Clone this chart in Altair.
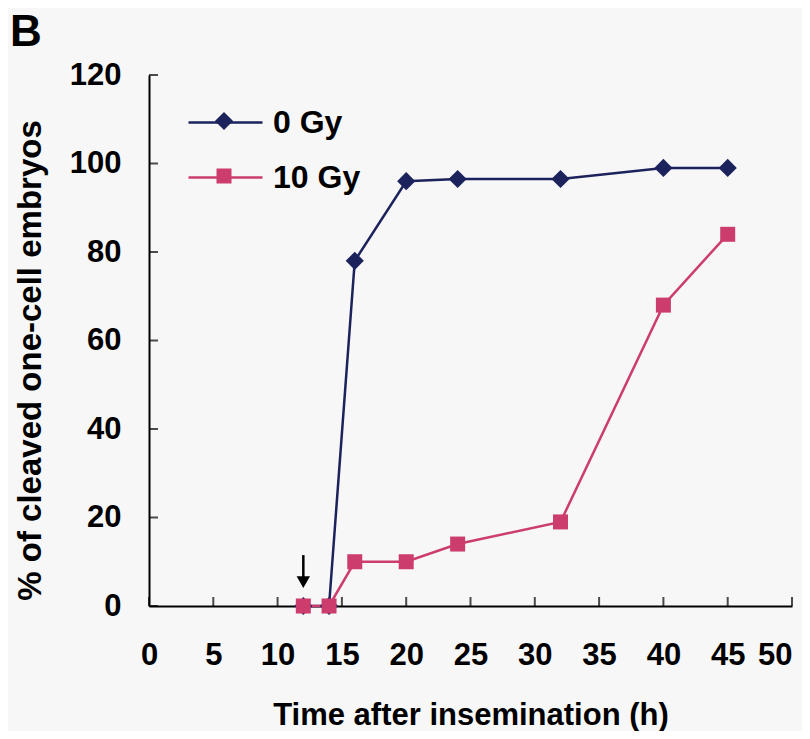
import altair as alt
import pandas as pd

series_names = ["0 Gy", "10 Gy"]
time_h = [12, 14, 16, 20, 24, 32, 40, 45]
pct_0gy = [0, 0, 78, 96, 96.5, 96.5, 99, 99]
pct_10gy = [0, 0, 10, 10, 14, 19, 68, 84]
x_ticks = [0, 5, 10, 15, 20, 25, 30, 35, 40, 45, 50]
y_ticks = [0, 20, 40, 60, 80, 100, 120]
arrow_time = [12]
arrow_top = [11.5]
arrow_shaft_end = [6.0]
arrow_head = [5.4]

series_colors = ["#1c225c", "#cc3c6c"]
marker_shapes = ["diamond", "square"]
marker_sizes = [330, 225]

series_col = [series_names[0]] * len(time_h) + [series_names[1]] * len(time_h)
df = pd.DataFrame({
    "time": time_h * 2,
    "pct": pct_0gy + pct_10gy,
    "series": series_col,
    "series_line": series_col,
})
xt_df = pd.DataFrame({"time": x_ticks})
yt_df = pd.DataFrame({"pct": y_ticks})
arrow_df = pd.DataFrame({"time": arrow_time, "pct": arrow_top,
                         "pct_end": arrow_shaft_end, "head": arrow_head})

FONT = "Liberation Sans"
x_scale = alt.Scale(domain=[0, 50], nice=False, zero=False)
y_scale = alt.Scale(domain=[0, 120], nice=False)

x_axis = alt.Axis(values=x_ticks, title="Time after insemination (h)", ticks=False,
                  tickSize=0, grid=False, labelPadding=34, titlePadding=30,
                  labelFontSize=31, titleFontSize=31, domainWidth=2, labelFlush=False,
                  labelAlign=alt.expr("datum.value == 50 ? 'right' : 'center'"))
y_axis = alt.Axis(values=y_ticks, title="% of cleaved one-cell embryos", ticks=False,
                  tickSize=0, grid=False, labelPadding=28, titlePadding=22, titleY=285,
                  labelFontSize=31, titleFontSize=33, domainWidth=2, labelFlush=False)

base = alt.Chart(df)

# legend = two stacked standard legends: coloured strokes underneath, markers on top
line_legend = alt.Legend(orient="none", legendX=38, legendY=9, title=None, padding=0,
                         symbolType="stroke", symbolSize=5476, symbolStrokeWidth=2.5,
                         rowPadding=-19, labelOffset=9,
                         labelFontSize=32, labelFontWeight="bold", labelFont=FONT,
                         labelColor="black")
marker_legend = alt.Legend(orient="top-left", offset=23, title=None, padding=0,
                           symbolSize=320, symbolOffset=36, symbolStrokeWidth=0,
                           clipHeight=46, rowPadding=9, labelExpr="''",
                           labelFontSize=32, labelFontWeight="bold", labelFont=FONT)

lines = base.mark_line(strokeWidth=2.5).encode(
    x=alt.X("time:Q", scale=x_scale, axis=x_axis),
    y=alt.Y("pct:Q", scale=y_scale, axis=y_axis),
    stroke=alt.Stroke("series_line:N", scale=alt.Scale(range=series_colors),
                      legend=line_legend),
)

points = base.mark_point(filled=True, opacity=1, strokeWidth=0).encode(
    x="time:Q", y="pct:Q",
    color=alt.Color("series:N", scale=alt.Scale(domain=series_names, range=series_colors),
                    legend=marker_legend),
    shape=alt.Shape("series:N", scale=alt.Scale(domain=series_names, range=marker_shapes),
                    legend=marker_legend),
    size=alt.Size("series:N", scale=alt.Scale(domain=series_names, range=marker_sizes),
                  legend=None),
)

xticks = alt.Chart(xt_df).mark_tick(orient="vertical", size=9, thickness=2, color="black",
                                    yOffset=-4.5).encode(x="time:Q", y=alt.datum(0))
yticks = alt.Chart(yt_df).mark_tick(orient="horizontal", size=9, thickness=2, color="black",
                                    xOffset=4.5).encode(y="pct:Q", x=alt.datum(0))

arrow_shaft = alt.Chart(arrow_df).mark_rule(strokeWidth=2.5, color="black").encode(
    x="time:Q", y="pct:Q", y2="pct_end:Q")
arrow_tip = alt.Chart(arrow_df).mark_point(shape="triangle-down", filled=True, size=180,
                                           color="black", opacity=1).encode(
    x="time:Q", y=alt.Y("head:Q"))

chart = alt.layer(lines, points, xticks, yticks, arrow_shaft, arrow_tip).properties(
    width=643, height=531,
    autosize=alt.AutoSizeParams(type="none"),
    padding={"left": 141, "top": 67, "right": 10, "bottom": 125},
    title=alt.TitleParams("B", anchor="start", frame="group", fontSize=44, fontWeight="bold",
                          font=FONT, color="black", dx=-139, dy=31, offset=0,
                          baseline="alphabetic"),
).configure(background="#f7f7f7").configure_view(stroke=None).configure_axis(
    labelFont=FONT, titleFont=FONT, labelFontWeight="bold", titleFontWeight="bold",
    labelColor="black", titleColor="black", domainColor="black"
)

chart.save("out.html", embed_options={"renderer": "svg", "actions": False})
